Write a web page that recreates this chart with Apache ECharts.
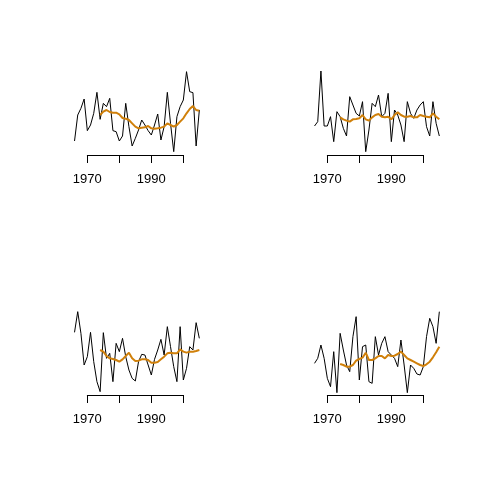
<!DOCTYPE html>
<html>
<head>
<meta charset="utf-8">
<script src="https://cdn.jsdelivr.net/npm/echarts@6/dist/echarts.min.js"></script>
<style>
html,body{margin:0;padding:0;background:#fff;}
#c{width:480px;height:480px;}
</style>
</head>
<body>
<div id="c"></div>
<script>
// Annual years of the raw series
var years = [1966,1967,1968,1969,1970,1971,1972,1973,1974,1975,1976,1977,1978,1979,1980,1981,1982,1983,1984,1985,1986,1987,1988,1989,1990,1991,1992,1993,1994,1995,1996,1997,1998,1999,2000,2001,2002,2003,2004,2005];
// Years of the smoothed (running-mean) series
var smoothYears = [1974,1975,1976,1977,1978,1979,1980,1981,1982,1983,1984,1985,1986,1987,1988,1989,1990,1991,1992,1993,1994,1995,1996,1997,1998,1999,2000,2001,2002,2003,2004,2005];

// Panel 1 (top left)
var raw1 = [5.7,13.5,15.5,18.3,8.8,10.5,14.0,20.3,12.2,17.0,16.0,18.5,8.8,8.5,5.7,7.2,17.0,10.0,4.2,6.5,9.0,12.0,10.5,8.8,7.5,10.5,13.8,6.0,10.0,20.3,11.0,2.5,13.0,16.0,18.0,26.5,20.5,20.2,4.2,15.0];
var smooth1 = [13.5,14.5,15.0,14.4,14.2,14.2,13.7,12.6,12.4,12.0,11.0,10.0,9.5,9.7,9.8,10.2,9.5,9.4,9.5,9.7,10.0,11.0,10.5,10.0,10.5,11.5,12.5,14.0,15.3,16.2,15.0,14.8];
// Panel 2 (top right)
var raw2 = [10.2,11.5,26.7,10.2,10.2,13.0,5.5,14.5,13.0,9.5,7.2,19.0,16.5,14.0,13.2,17.5,2.5,9.0,17.0,16.0,19.5,13.0,14.0,20.0,5.5,15.0,13.5,10.5,5.5,17.5,14.0,12.5,15.0,16.5,17.5,10.0,7.2,17.5,11.0,7.2];
var smooth2 = [12.8,12.2,11.8,11.5,12.2,12.3,12.5,13.5,12.2,11.8,12.8,13.5,13.8,13.0,12.8,13.0,12.2,13.5,14.3,13.5,13.0,13.0,13.2,12.8,12.8,13.5,13.2,13.0,12.8,14.0,13.0,12.2];
// Panel 3 (bottom left)
var raw3 = [20.3,26.5,20.0,10.5,13.0,20.3,11.5,5.5,2.5,20.2,12.5,14.0,5.5,17.0,14.5,18.5,13.0,9.0,6.5,5.7,11.5,13.7,13.5,10.5,7.5,12.2,15.0,18.2,13.5,22.0,16.0,10.0,5.5,22.0,6.0,9.5,16.0,15.0,23.2,18.5];
var smooth3 = [15.0,14.5,13.2,12.5,12.3,12.0,11.5,12.2,13.2,14.2,12.5,11.7,11.8,12.2,12.2,12.0,11.2,11.2,11.4,12.2,13.0,14.0,14.2,14.0,14.0,15.2,14.5,14.2,14.5,14.5,14.7,15.0];
// Panel 4 (bottom right)
var raw4 = [11.0,12.5,16.5,12.5,6.5,4.0,14.5,2.2,20.0,15.0,10.5,8.5,19.0,25.0,6.0,16.0,16.5,5.5,5.0,19.0,13.5,17.0,19.0,14.5,13.5,12.5,10.0,18.0,10.5,2.2,10.5,9.5,7.8,7.5,10.0,19.0,24.5,22.0,17.0,26.5];
var smooth4 = [10.8,10.5,10.0,10.0,10.5,11.8,12.3,12.7,14.2,12.0,12.0,12.5,13.2,13.2,12.5,13.5,13.2,13.3,13.8,14.5,13.5,12.5,12.0,11.5,11.0,10.5,10.2,10.7,11.5,12.8,14.3,16.0];

// Axis tick labels shown (R drops overlapping ones)
var tickLabels = [1970, 1990];

var raws = [raw1, raw2, raw3, raw4];
var smooths = [smooth1, smooth2, smooth3, smooth4];

function pairs(xs, ys) {
  return xs.map(function (x, i) { return [x, ys[i]]; });
}

var dataLeft = [71.33, 311.33, 71.33, 311.33];
var panelTop = [60, 60, 300, 300];
var axisLeft = [87.33, 327.33, 87.33, 327.33];

var grid = [], xAxis = [], yAxis = [], series = [];
for (var p = 0; p < 4; p++) {
  // data grid
  grid.push({left: dataLeft[p], top: panelTop[p], width: 131.2, height: 100});
  xAxis.push({type: 'value', gridIndex: 2 * p, min: 1965, max: 2006, show: false});
  yAxis.push({type: 'value', gridIndex: 2 * p, min: 0, max: 30, show: false});
  // axis-only grid (axis line spans first to last tick like R)
  grid.push({left: axisLeft[p], top: panelTop[p] + 94, width: 96, height: 1});
  xAxis.push({
    type: 'value', gridIndex: 2 * p + 1, min: 1970, max: 2000, interval: 10,
    axisLine: {show: true, lineStyle: {color: '#000', width: 1}},
    axisTick: {show: true, length: 8, lineStyle: {color: '#000', width: 1}},
    splitLine: {show: false},
    axisLabel: {
      show: true, margin: 18, color: '#000', fontSize: 13,
      fontFamily: 'Liberation Sans, Arial, sans-serif',
      formatter: function (v) { return tickLabels.indexOf(v) >= 0 ? String(v) : ''; }
    }
  });
  yAxis.push({type: 'value', gridIndex: 2 * p + 1, show: false});

  series.push({
    type: 'line', xAxisIndex: 2 * p, yAxisIndex: 2 * p,
    data: pairs(years, raws[p]), showSymbol: false, symbol: 'none',
    lineStyle: {color: '#000', width: 1}, animation: false, silent: true
  });
  series.push({
    type: 'line', xAxisIndex: 2 * p, yAxisIndex: 2 * p,
    data: pairs(smoothYears, smooths[p]), showSymbol: false, symbol: 'none',
    lineStyle: {color: '#D0800A', width: 2}, animation: false, silent: true
  });
}

var chart = echarts.init(document.getElementById('c'), null, {renderer: 'canvas'});
chart.setOption({
  backgroundColor: '#fff',
  animation: false,
  grid: grid, xAxis: xAxis, yAxis: yAxis, series: series
});
</script>
</body>
</html>
